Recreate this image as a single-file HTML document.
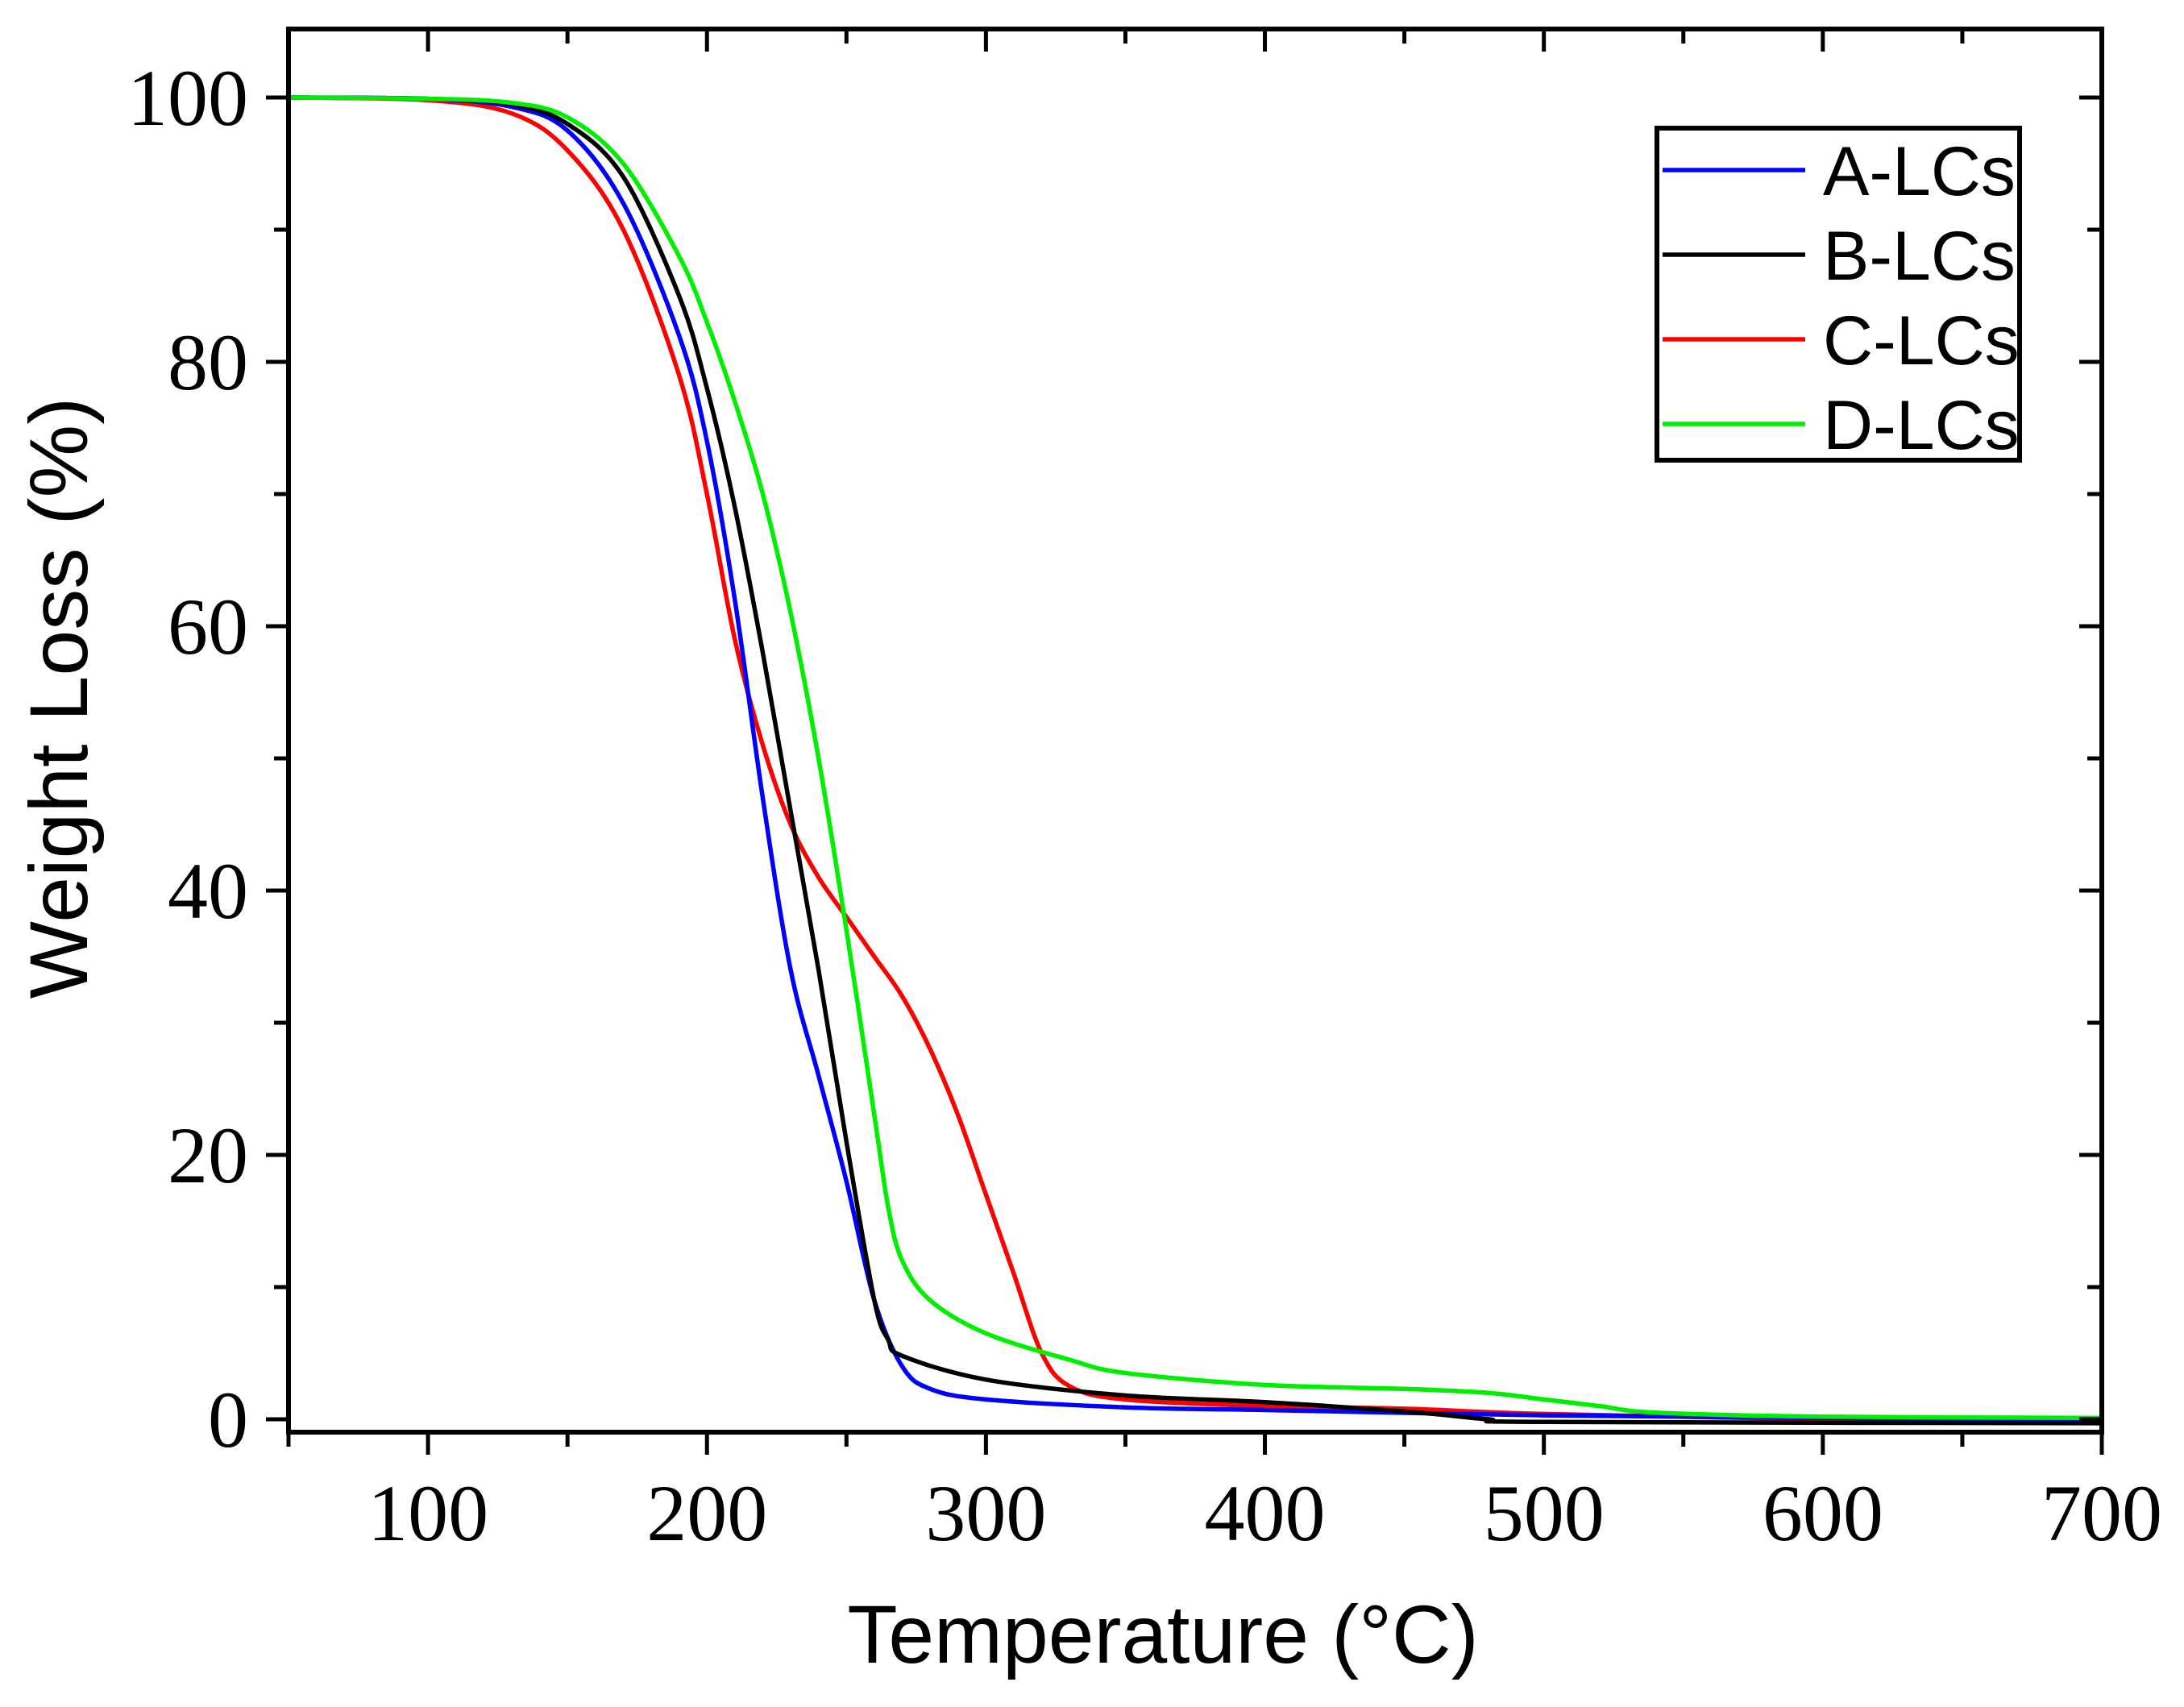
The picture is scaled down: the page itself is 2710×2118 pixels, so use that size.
<!DOCTYPE html>
<html><head><meta charset="utf-8"><style>
html,body{margin:0;padding:0;background:#fff;}
svg{display:block;}
</style></head><body>
<svg id="chart" width="2710" height="2118" viewBox="0 0 2710 2118" xmlns="http://www.w3.org/2000/svg">
<g id="plot"></g>
</svg>
<script>
const xTicks = [100, 200, 300, 400, 500, 600, 700];
const yTicks = [0, 20, 40, 60, 80, 100];
const seriesNames = ["A-LCs", "B-LCs", "C-LCs", "D-LCs"];
const seriesColors = ["#0000ff", "#000000", "#ff0000", "#00ee00"];
const tempA = [50,100,130,150,170,190,200,210,220,230,240,250,260,270,280,300,350,400,500,600,700];
const wA = [100,99.9,99.3,97.5,92,82,74,62,47,34,26,18,9,4,2.3,1.5,0.9,0.7,0.3,0.1,0];
const tempB = [50,100,130,150,170,190,200,210,220,230,240,250,260,265,270,300,350,400,450,480,500,700];
const wB = [100,99.9,99.5,98,94,85,78,69,58,46,34,21,9,6,4.8,3,1.8,1.3,0.6,0,-0.2,-0.3];
const tempC = [50,100,130,150,170,190,200,210,220,230,240,250,260,270,280,290,300,310,320,330,350,400,450,500,600,700];
const wC = [100,99.8,98.8,96,90,79,70,59,51,45,41,38,35,32,28,23,17,11,5,2.5,1.5,1,0.8,0.4,0,-0.3];
const tempD = [50,100,130,150,170,190,200,210,220,230,240,250,260,265,270,280,300,330,350,400,450,480,500,520,540,600,700];
const wD = [100,99.9,99.6,98.5,95,88,83,77,70,61,50,37,23,16,12,9,6.5,4.5,3.5,2.6,2.3,2,1.5,1,0.5,0.2,0.1];

const L=358, R=2608, T=36, B=1777;
const X0=50, X1=700, Y100=121, Y0=1761;
const xs = v => L + (v - X0) / (X1 - X0) * (R - L);
const ys = v => Y0 + (Y100 - Y0) * v / 100;
const NS="http://www.w3.org/2000/svg";
const plot=document.getElementById('plot');
function mk(tag, attrs, parent){const e=document.createElementNS(NS,tag);for(const k in attrs)e.setAttribute(k,attrs[k]);(parent||plot).appendChild(e);return e;}

function pathFor(xsArr, ysArr){
  const p = xsArr.map((t,i)=>[xs(t), ys(ysArr[i])]);
  let d = "M"+p[0][0].toFixed(1)+","+p[0][1].toFixed(1);
  for(let i=0;i<p.length-1;i++){
    const p0=p[Math.max(0,i-1)], p1=p[i], p2=p[i+1], p3=p[Math.min(p.length-1,i+2)];
    const c1=[p1[0]+(p2[0]-p0[0])/6, p1[1]+(p2[1]-p0[1])/6];
    const c2=[p2[0]-(p3[0]-p1[0])/6, p2[1]-(p3[1]-p1[1])/6];
    d+=" C"+c1[0].toFixed(1)+","+c1[1].toFixed(1)+" "+c2[0].toFixed(1)+","+c2[1].toFixed(1)+" "+p2[0].toFixed(1)+","+p2[1].toFixed(1);
  }
  return d;
}

const temps=[tempA,tempB,tempC,tempD], ws=[wA,wB,wC,wD];
const clip=mk('clipPath',{id:'clp'});
mk('rect',{x:L,y:T,width:R-L,height:B-T},clip);
const order=[2,0,1,3];
order.forEach(i=>{
  const p=mk('path',{d:pathFor(temps[i],ws[i]),fill:'none',stroke:seriesColors[i],'stroke-width':5.5,'stroke-linejoin':'round','clip-path':'url(#clp)'});
  
  
});

const fr=mk('rect',{x:L,y:T,width:R-L,height:B-T,fill:'none',stroke:'#000','stroke-width':6});



for(let v=50; v<=700; v+=50){
  const major = v%100===0;
  const x=xs(v), len= major?28:18;
  const t=mk('line',{x1:x,y1:B,x2:x,y2:B+len,stroke:'#000','stroke-width':5});
  
  
  const t2=mk('line',{x1:x,y1:T,x2:x,y2:T+len,stroke:'#000','stroke-width':5});
  
  
}
xTicks.forEach(v=>{
  const t=mk('text',{x:xs(v),y:1911,'text-anchor':'middle','font-family':'Liberation Serif, serif','font-size':100,fill:'#000'});
  t.textContent=v;
  
  
});
for(let v=0; v<=100; v+=10){
  const major=v%20===0;
  const y=ys(v), len=major?28:18;
  const t=mk('line',{x1:L-len,y1:y,x2:L,y2:y,stroke:'#000','stroke-width':5});
  
  
  const t2=mk('line',{x1:R-len,y1:y,x2:R,y2:y,stroke:'#000','stroke-width':5});
  
  
}
yTicks.forEach(v=>{
  const t=mk('text',{x:308,y:ys(v)+34,'text-anchor':'end','font-family':'Liberation Serif, serif','font-size':100,fill:'#000'});
  t.textContent=v;
  
  
});
const xt=mk('text',{x:1443,y:2063,'text-anchor':'middle','font-family':'Liberation Sans, sans-serif','font-size':102,fill:'#000'});
xt.textContent='Temperature (°C)';


const yt=mk('text',{x:0,y:0,'text-anchor':'middle','font-family':'Liberation Sans, sans-serif','font-size':102,fill:'#000',transform:'translate(108,866) rotate(-90)'});
yt.textContent='Weight Loss (%)';



const lg=mk('g',{});


mk('rect',{x:2056,y:159,width:450,height:412,fill:'#fff',stroke:'#000','stroke-width':6},lg);
seriesNames.forEach((n,i)=>{
  const y=211+i*105;
  const g=mk('g',{},lg);
  
  
  mk('line',{x1:2063,y1:y,x2:2240,y2:y,stroke:seriesColors[i],'stroke-width':5.5},g);
  const t=mk('text',{x:2262,y:y+31,'font-family':'Liberation Sans, sans-serif','font-size':86,fill:'#000'},g);
  t.textContent=n;
});
</script>
</body></html>
